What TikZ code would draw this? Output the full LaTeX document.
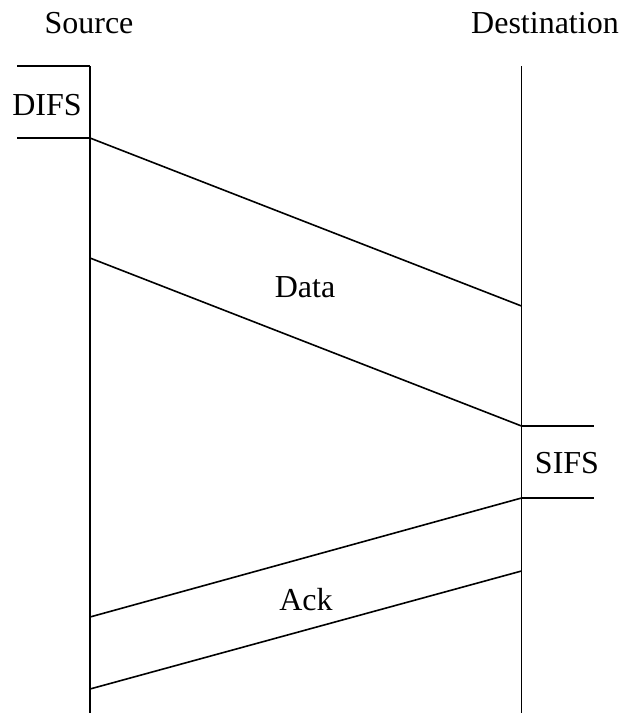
\documentclass[tikz,border=0pt]{standalone}
\usepackage{fontspec}
\setmainfont{Liberation Serif}
\begin{document}
\begin{tikzpicture}[x=1pt,y=-1pt,
  ln/.style={line width=1.6pt},
  lbl/.style={inner sep=0pt,anchor=base,font=\fontsize{32}{38}\selectfont}]
\useasboundingbox (0,0) rectangle (621,713);
% lifelines
\coordinate (s0) at (90,66);
\coordinate (s1) at (90,713);
\coordinate (d0) at (521.5,66);
\coordinate (d1) at (521.5,713);
\draw[ln] (s0) -- (s1);
\draw[ln] (d0) -- (d1);
% labels
\node[lbl] (src) at (89,33) {Source};
\node[lbl] (dst) at (545,33) {Destination};
% DIFS
\coordinate (difsA) at (17,66);
\coordinate (difsB) at (17,138);
\coordinate (sd1) at (90,138);
\draw[ln] (difsA) -- (s0);
\draw[ln] (difsB) -- (sd1);
\node[lbl] (difs) at (47,115) {DIFS};
% Data
\coordinate (sd2) at (90,258);
\coordinate (dd1) at (521.5,306);
\coordinate (dd2) at (521.5,426);
\draw[ln] (sd1) -- (dd1);
\draw[ln] (sd2) -- (dd2);
\node[lbl] (data) at (305,297) {Data};
% SIFS
\coordinate (da1) at (521.5,498);
\coordinate (sifsA) at (594,426);
\coordinate (sifsB) at (594,498);
\draw[ln] (dd2) -- (sifsA);
\draw[ln] (da1) -- (sifsB);
\node[lbl] (sifs) at (567,473) {SIFS};
% Ack
\coordinate (da2) at (521.5,571);
\coordinate (sa1) at (90,617);
\coordinate (sa2) at (90,689);
\draw[ln] (da1) -- (sa1);
\draw[ln] (da2) -- (sa2);
\node[lbl] (ack) at (306,610) {Ack};
\end{tikzpicture}
\end{document}
